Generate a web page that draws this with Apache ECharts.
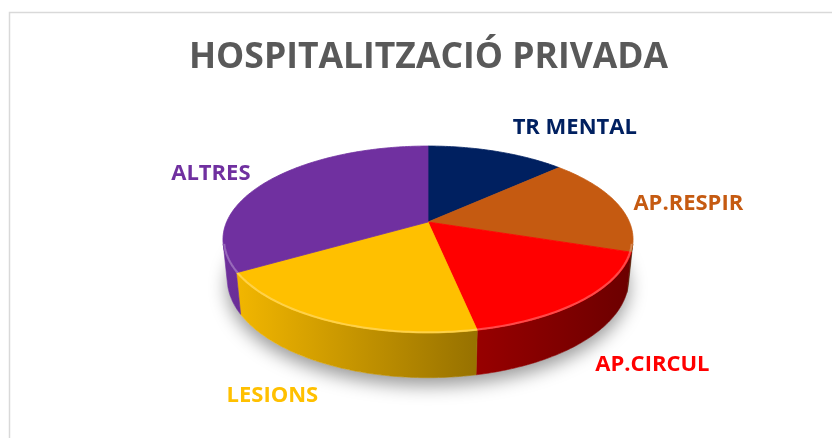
<!DOCTYPE html>
<html><head><meta charset="utf-8">
<script src="https://cdn.jsdelivr.net/npm/echarts@6/dist/echarts.min.js"></script>
<style>html,body{margin:0;padding:0;background:#fff}#c{width:832px;height:438px}</style>
</head><body><div id="c"></div>
<script>
// ---- data ----
const categories = ['TR MENTAL', 'AP.RESPIR', 'AP.CIRCUL', 'LESIONS', 'ALTRES'];
const values = [13.1, 17.0, 16.7, 19.7, 33.5];
const colors = ['#002060', '#C55A11', '#FF0000', '#FFC000', '#7030A0'];
const titleText = 'HOSPITALITZACIÓ PRIVADA';

// ---- layout / style ----
const labelOffsets = [[78, -24], [71, 0], [69, 64], [-57, 74], [-57, -7]];
const view = { cx: 428, cy: 222, f: 961.8, R: 0.2094, T: 0.046, tilt: 26.6 };
const FONT = '"Open Sans", "Noto Sans", sans-serif';

const sT = Math.sin(view.tilt * Math.PI / 180), cT = Math.cos(view.tilt * Math.PI / 180);
function proj(phi, r, h) {
  const a = phi * Math.PI / 180;
  const u = r * Math.sin(a), v = r * Math.cos(a);
  const z = 1 + view.R * v * cT - h * sT;
  return [view.cx + view.f * view.R * u / z, view.cy - view.f * (view.R * v * sT + h * cT) / z];
}
const total = values.reduce((a, b) => a + b, 0);
const cum = [0];
values.forEach(v => cum.push(cum[cum.length - 1] + 360 * v / total));
// visible side wall range (silhouette)
const cosLim = -view.R / cT;
const visStart = Math.acos(cosLim) * 180 / Math.PI;
const visEnd = 360 - visStart;
const xL = proj(visEnd, 1, 0)[0], xR = proj(visStart, 1, 0)[0];
const xMid = proj(170, 1, 0)[0];

function shade(hex, k) {
  const n = parseInt(hex.slice(1), 16);
  const r = Math.round(((n >> 16) & 255) * k), g = Math.round(((n >> 8) & 255) * k), b = Math.round((n & 255) * k);
  return 'rgb(' + r + ',' + g + ',' + b + ')';
}
function arcPts(a0, a1, r, h) {
  const pts = [];
  const n = Math.max(2, Math.ceil(Math.abs(a1 - a0) / 1));
  for (let k = 0; k <= n; k++) pts.push(proj(a0 + (a1 - a0) * k / n, r, h));
  return pts;
}

const chart = echarts.init(document.getElementById('c'), null, { renderer: 'canvas' });
chart.setOption({
  backgroundColor: '#fff',
  animation: false,
  graphic: [{
    type: 'rect', shape: { x: 9.5, y: 12.5, width: 1200, height: 1200 },
    style: { fill: 'none', stroke: '#D9D9D9', lineWidth: 1.5 }, silent: true
  }, {
    type: 'text', x: 428.5, y: 58,
    style: {
      text: titleText, fill: '#595959', fontSize: 35.5, fontWeight: 'bold', fontFamily: FONT,
      align: 'center', verticalAlign: 'middle'
    }
  }],
  series: [{
    type: 'custom',
    coordinateSystem: 'none',
    data: values.map((v, i) => ({ name: categories[i], value: v })),
    renderItem: function (params, api) {
      const i = params.dataIndex;
      const a0 = cum[i], a1 = cum[i + 1];
      const col = colors[i];
      const children = [];
      if (i === 0) {
        children.push({
          type: 'polygon', z2: -5,
          shape: { points: arcPts(0, 360, 1, -view.T) },
          style: { fill: '#fff', shadowBlur: 18, shadowColor: 'rgba(0,0,0,0.4)', shadowOffsetY: 8 }
        });
      }
      // side wall
      const w0 = Math.max(a0, visStart), w1 = Math.min(a1, visEnd);
      if (w1 > w0) {
        const top = arcPts(w0, w1, 1, 0), bot = arcPts(w1, w0, 1, -view.T);
        const grad = new echarts.graphic.LinearGradient(xL, 0, xR, 0, [
          { offset: 0, color: shade(col, 0.97) },
          { offset: (xMid - xL) / (xR - xL), color: shade(col, 0.6) },
          { offset: 1, color: shade(col, 0.42) }
        ], true);
        children.push({
          type: 'polygon', z2: 1,
          shape: { points: top.concat(bot) },
          style: { fill: grad, stroke: grad, lineWidth: 0.6 }
        });
        // soft bevel highlight along the top rim
        children.push({
          type: 'polyline', z2: 12,
          shape: { points: arcPts(w0, w1, 0.995, 0) },
          style: { stroke: 'rgba(255,255,255,0.28)', lineWidth: 2, fill: null }
        });
      }
      // top face
      const pts = [proj(0, 0, 0)].concat(arcPts(a0, a1, 1, 0));
      children.push({
        type: 'polygon', z2: 10,
        shape: { points: pts },
        style: { fill: col, stroke: col, lineWidth: 0.8, lineJoin: 'round' }
      });
      // label
      const mid = (a0 + a1) / 2;
      const p = proj(mid, 1, 0);
      children.push({
        type: 'text', z2: 20,
        x: p[0] + labelOffsets[i][0], y: p[1] + labelOffsets[i][1],
        style: {
          text: categories[i], fill: col, fontSize: 22, fontWeight: 'bold', fontFamily: FONT,
          align: 'center', verticalAlign: 'middle'
        }
      });
      return { type: 'group', children: children };
    }
  }]
});
</script>
</body></html>
